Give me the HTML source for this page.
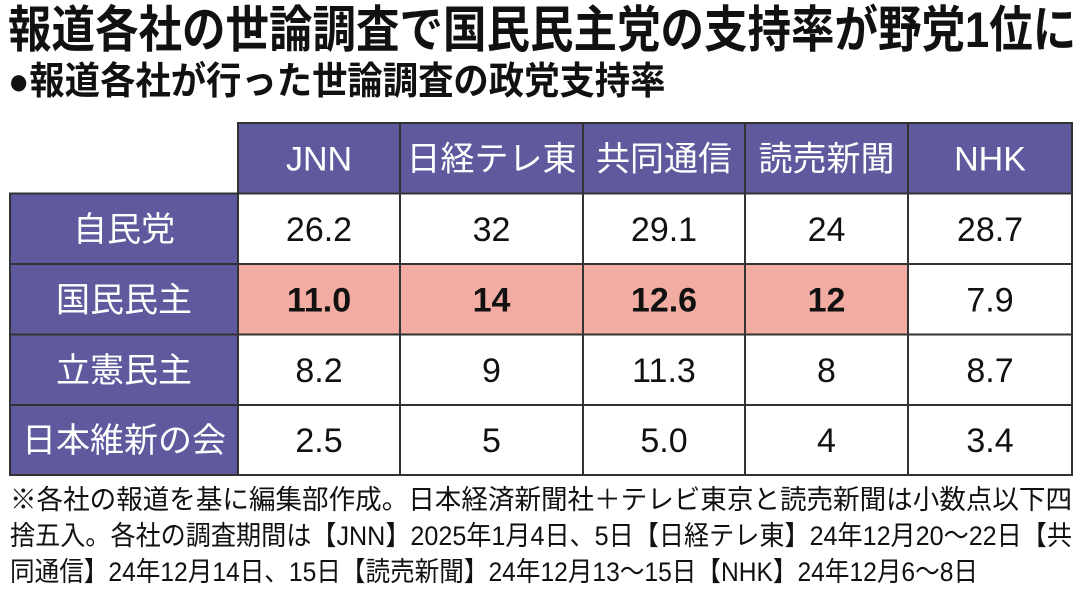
<!DOCTYPE html>
<html><head><meta charset="utf-8">
<style>
html,body{margin:0;padding:0;background:#fff;}
body{width:1080px;height:605px;position:relative;overflow:hidden;font-family:"Liberation Sans","Noto Sans CJK JP",sans-serif;color:#111;}
.t{position:absolute;left:8px;white-space:nowrap;transform-origin:0 0;font-weight:bold;}
#title{top:0px;font-size:50px;transform:scaleX(0.87);line-height:60px;}
#sub{top:60px;font-size:38px;transform:scaleX(0.93);line-height:44px;}
#tbl{position:absolute;left:0;top:0;}
.note{position:absolute;left:10px;font-size:27px;white-space:nowrap;line-height:36px;transform-origin:0 0;}
</style></head><body>
<div id="title" class="t">報道各社の世論調査で国民民主党の支持率が野党1位に</div>
<div id="sub" class="t">●報道各社が行った世論調査の政党支持率</div>
<svg id="tbl" width="1080" height="605"></svg>
<div class="note" data-w="1062" style="top:482px">※各社の報道を基に編集部作成。日本経済新聞社＋テレビ東京と読売新聞は小数点以下四</div>
<div class="note" data-w="1062" style="top:518px">捨五入。各社の調査期間は【JNN】2025年1月4日、5日【日経テレ東】24年12月20～22日【共</div>
<div class="note" data-w="968" style="top:554px">同通信】24年12月14日、15日【読売新聞】24年12月13～15日【NHK】24年12月6～8日</div>
<script>
const outlets = ["JNN","日経テレ東","共同通信","読売新聞","NHK"];
const parties = ["自民党","国民民主","立憲民主","日本維新の会"];
const labels = [
  ["26.2","32","29.1","24","28.7"],
  ["11.0","14","12.6","12","7.9"],
  ["8.2","9","11.3","8","8.7"],
  ["2.5","5","5.0","4","3.4"]
];
const highlightRow = 1;
const highlightCols = [0,1,2,3];

document.querySelectorAll('.note').forEach(n=>{
  const w=n.getBoundingClientRect().width;
  n.style.transform='scaleX('+(parseFloat(n.dataset.w)/w)+')';
});

const svg = document.getElementById('tbl');
const NS = "http://www.w3.org/2000/svg";
const colX = [10,238,400,583,745,908,1072];
const rowY = [123,193.5,264,334.5,405,475];
const purple = "#5f5a9d", pink = "#f2aca1", line = "#333";
function mk(tag, attrs){const e=document.createElementNS(NS,tag);for(const k in attrs)e.setAttribute(k,attrs[k]);svg.appendChild(e);return e;}
function txt(x,y,s,fill,weight){
  const t=mk('text',{x:x,y:y,'text-anchor':'middle','dominant-baseline':'central','font-size':34,fill:fill,'font-weight':weight,'font-family':'"Liberation Sans","Noto Sans CJK JP",sans-serif'});
  t.textContent=s;return t;
}
outlets.forEach((o,i)=>{
  const r=mk('rect',{x:colX[i+1],y:rowY[0],width:colX[i+2]-colX[i+1],height:rowY[1]-rowY[0],fill:purple,stroke:line,'stroke-width':2});
  
  
  const t=txt((colX[i+1]+colX[i+2])/2,(rowY[0]+rowY[1])/2+1,o,'#fff','normal');
  
  
});
parties.forEach((p,r)=>{
  const y0=rowY[r+1], y1=rowY[r+2];
  const rc=mk('rect',{x:colX[0],y:y0,width:colX[1]-colX[0],height:y1-y0,fill:purple,stroke:line,'stroke-width':2});
  
  
  const pt=txt((colX[0]+colX[1])/2,(y0+y1)/2+1,p,'#fff','normal');
  
  
  labels[r].forEach((v,c)=>{
    const hl = r===highlightRow && highlightCols.includes(c);
    const cell=mk('rect',{x:colX[c+1],y:y0,width:colX[c+2]-colX[c+1],height:y1-y0,fill:hl?pink:'#fff',stroke:line,'stroke-width':2});
    
    
    const vt=txt((colX[c+1]+colX[c+2])/2,(y0+y1)/2+1,v,'#111',hl?'bold':'normal');
    
    
  });
});
</script>
</body></html>
